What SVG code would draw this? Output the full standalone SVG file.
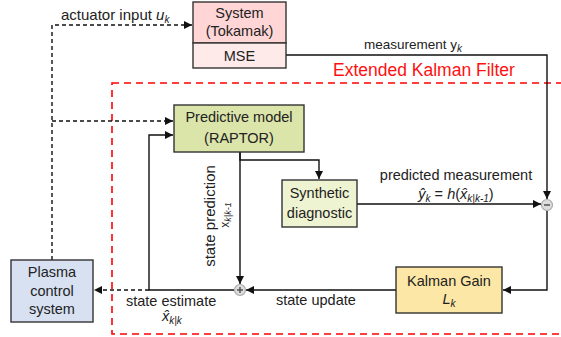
<svg xmlns="http://www.w3.org/2000/svg" width="561" height="337" viewBox="0 0 561 337">
<style>
text{font-family:"Liberation Sans",Arial,sans-serif;font-size:14.5px;fill:#222}
.c{text-anchor:middle}
.box{stroke:#333;stroke-width:1.4}
.ln{fill:none;stroke:#111;stroke-width:1.4}
.dash{fill:none;stroke:#111;stroke-width:1.4;stroke-dasharray:4 3}
.sub{font-size:10px;font-style:italic}
.it{font-style:italic}
</style>
<defs>
<marker id="ah" viewBox="0 0 8 8" refX="8" refY="4" markerWidth="8" markerHeight="8" markerUnits="userSpaceOnUse" orient="auto">
<path d="M0,0 L8,4 L0,8 z" fill="#111"/>
</marker>
</defs>
<rect x="112" y="83" width="470" height="251" fill="none" stroke="#ff0000" stroke-width="1.6" stroke-dasharray="7 5"/>
<text x="333" y="76" style="font-size:17.5px;fill:#ff1010">Extended Kalman Filter</text>
<g id="connectors">
<path class="dash" d="M52,260 V25 H192" marker-end="url(#ah)"/>
<path class="dash" d="M52,121 H173" marker-end="url(#ah)"/>
<path class="ln" d="M286,55 H547 V199" marker-end="url(#ah)"/>
<path class="ln" d="M240,152 V160 H319 V179" marker-end="url(#ah)"/>
<path class="ln" d="M240,152 V284" marker-end="url(#ah)"/>
<path class="ln" d="M357,204 H541" marker-end="url(#ah)"/>
<path class="ln" d="M547,210.5 V290 H503" marker-end="url(#ah)"/>
<path class="ln" d="M396,290 H246" marker-end="url(#ah)"/>
<path class="ln" d="M234.5,290 H149 V135 H173" marker-end="url(#ah)"/>
<path class="dash" d="M149,290 H94" marker-end="url(#ah)"/>
</g>
<g id="labels">
<text x="61" y="20" style="font-size:15px">actuator input <tspan class="it">u</tspan><tspan class="sub" dy="3">k</tspan></text>
<text x="364" y="49" style="font-size:13.5px">measurement y<tspan class="sub" dy="3">k</tspan></text>
<text class="c" x="456" y="180">predicted measurement</text>
<text class="c" x="456" y="199"><tspan class="it">ŷ</tspan><tspan class="sub" dy="3">k</tspan><tspan dy="-3"> = </tspan><tspan class="it">h</tspan>(<tspan class="it">x̂</tspan><tspan class="sub" dy="3">k|k-1</tspan><tspan dy="-3">)</tspan></text>
<text class="c" transform="translate(215,216) rotate(-90)" style="font-size:15px">state prediction</text>
<text class="c" transform="translate(229,215) rotate(-90)" style="font-size:12px">x<tspan class="sub" style="font-size:9px" dy="2">k|k-1</tspan></text>
<text x="276" y="305">state update</text>
<text x="126" y="306">state estimate</text>
<text x="162" y="321"><tspan class="it">x̂</tspan><tspan class="sub" dy="3">k|k</tspan></text>
</g>
<g id="system">
<rect class="box" x="193" y="2" width="93" height="41" fill="#ffd5d5"/>
<rect class="box" x="193" y="43" width="93" height="25" fill="#ffeaea"/>
<text class="c" x="239.5" y="18">System</text>
<text class="c" x="239.5" y="36">(Tokamak)</text>
<text class="c" x="239.5" y="61">MSE</text>
</g>
<g id="predictive">
<rect class="box" x="174" y="105" width="130" height="47" fill="#dbe4a9"/>
<text class="c" x="239" y="122">Predictive model</text>
<text class="c" x="239" y="143">(RAPTOR)</text>
</g>
<g id="synthetic">
<rect class="box" x="282" y="180" width="75" height="47" fill="#eef3d2"/>
<text class="c" x="319.5" y="198">Synthetic</text>
<text class="c" x="319.5" y="218">diagnostic</text>
</g>
<g id="minus">
<circle cx="547" cy="205" r="5.5" fill="#ddd" stroke="#aaa" stroke-width="1.2"/>
<path d="M544,205 H550" stroke="#555" stroke-width="1.5"/>
</g>
<g id="plus">
<circle cx="240" cy="290" r="5.5" fill="#ddd" stroke="#aaa" stroke-width="1.2"/>
<path d="M237,290 H243 M240,287 V293" stroke="#555" stroke-width="1.5"/>
</g>
<g id="kalman">
<rect class="box" x="396" y="267" width="106" height="46" fill="#fce7a6"/>
<text class="c" x="449" y="286">Kalman Gain</text>
<text class="c" x="449" y="304"><tspan class="it">L</tspan><tspan class="sub" dy="3">k</tspan></text>
</g>
<g id="plasma">
<rect class="box" x="11" y="260" width="82" height="62" fill="#d7e1f2"/>
<text class="c" x="52" y="277">Plasma</text>
<text class="c" x="52" y="296">control</text>
<text class="c" x="52" y="314">system</text>
</g>
</svg>
